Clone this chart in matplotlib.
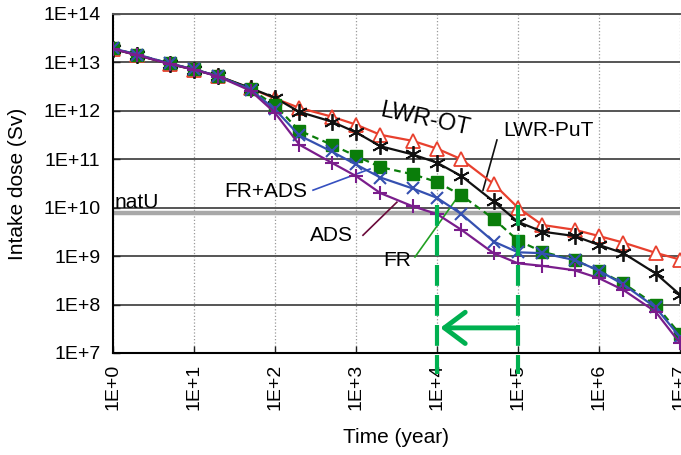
import matplotlib
matplotlib.use("Agg")
import matplotlib.pyplot as plt

# time points (year)
years = [1, 2, 5, 10, 20, 50, 100, 200, 500, 1e3, 2e3, 5e3,
         1e4, 2e4, 5e4, 1e5, 2e5, 5e5, 1e6, 2e6, 5e6, 1e7]

# intake dose (Sv)
lwr_ot = [1.9e13, 1.41e13, 9.3e12, 7.1e12, 5.2e12, 2.9e12, 1.8e12, 1.15e12,
          7.6e11, 5.2e11, 3.2e11, 2.4e11, 1.66e11, 1.0e11, 3.1e10, 1.0e10,
          4.4e9, 3.5e9, 2.6e9, 1.9e9, 1.17e9, 8.5e8]
lwr_put = [1.9e13, 1.41e13, 9.3e12, 7.1e12, 5.2e12, 2.95e12, 1.86e12, 9.5e11,
           6.0e11, 3.6e11, 1.86e11, 1.26e11, 8.5e10, 4.5e10, 1.35e10, 5.1e9,
           3.2e9, 2.6e9, 1.7e9, 1.15e9, 4.4e8, 1.6e8]
fr = [1.95e13, 1.45e13, 9.5e12, 7.2e12, 5.2e12, 2.8e12, 1.3e12, 3.9e11,
      2.0e11, 1.17e11, 6.9e10, 4.9e10, 3.4e10, 1.8e10, 5.9e9, 2.1e9,
      1.23e9, 8.3e8, 5.0e8, 2.75e8, 9.8e7, 2.45e7]
fr_ads = [1.95e13, 1.45e13, 9.5e12, 7.2e12, 5.2e12, 2.75e12, 1.07e12, 3.1e11,
          1.45e11, 7.8e10, 4.2e10, 2.5e10, 1.6e10, 7.4e9, 2.0e9, 1.2e9,
          1.15e9, 8.3e8, 5.0e8, 2.6e8, 8.7e7, 2.15e7]
ads = [1.9e13, 1.41e13, 9.3e12, 7.1e12, 5.1e12, 2.6e12, 9.1e11, 2.0e11,
       8.5e10, 4.5e10, 2.0e10, 1.07e10, 7.4e9, 3.5e9, 1.15e9, 7.1e8,
       6.3e8, 5.1e8, 3.5e8, 2.0e8, 7.1e7, 1.6e7]

natu_level = 7.8e9
x_ticks = [1, 1e1, 1e2, 1e3, 1e4, 1e5, 1e6, 1e7]
x_labels = ["1E+0", "1E+1", "1E+2", "1E+3", "1E+4", "1E+5", "1E+6", "1E+7"]
y_ticks = [1e7, 1e8, 1e9, 1e10, 1e11, 1e12, 1e13, 1e14]
y_labels = ["1E+7", "1E+8", "1E+9", "1E+10", "1E+11", "1E+12", "1E+13", "1E+14"]

plt.rcParams["font.family"] = ["Liberation Sans", "DejaVu Sans"]

fig = plt.figure(figsize=(6.81, 4.55), dpi=100)
ax = fig.add_axes([0.1659, 0.2242, 0.8326, 0.7451])
ax.set_xscale("log")
ax.set_yscale("log")
ax.set_xlim(1, 1e7)
ax.set_ylim(1e7, 1e14)

ax.grid(True, axis="y", color="#555555", lw=1.4)
ax.grid(True, axis="x", color="#999999", lw=0.9, ls=":")
ax.set_axisbelow(True)

ax.axhline(natu_level, color="#a8a8a8", lw=3.2, zorder=1.5)

ax.plot(years, lwr_ot, color="#e8402e", lw=1.6, marker="^", ms=10,
        mfc="white", mec="#e8402e", mew=1.3, zorder=3)
ax.plot(years, lwr_put, color="#111111", lw=1.6, marker=(6, 2, 0), ms=12,
        mew=1.3, zorder=3.1)
ax.plot(years, fr, color="#0a7d0a", lw=1.6, ls=(0, (3, 2)), marker="s", ms=8,
        mec="#0a7d0a", zorder=3.2)
ax.plot(years, fr_ads, color="#3550b0", lw=1.6, marker="x", ms=9, mew=1.5,
        zorder=3.3)
ax.plot(years, ads, color="#7a1d8c", lw=1.6, marker="+", ms=10, mew=1.5,
        zorder=3.4)

# dashed markers for 1E+4 and 1E+5 years and the arrow between them
for xv in [1e4, 1e5]:
    ax.plot([xv, xv], [1.15e10, 3.7e6], color="#00b050", lw=3,
            dashes=(5, 2.2), clip_on=False, zorder=4)
ax.annotate("", xy=(1.1e4, 3.3e7), xytext=(9.2e4, 3.3e7),
            arrowprops=dict(arrowstyle="->,head_length=0.6,head_width=0.45",
                            color="#00b050", lw=3.5, mutation_scale=25,
                            shrinkA=0, shrinkB=0, capstyle="round"),
            zorder=4)

# labels and leader lines
ax.text(1.06, 1.0e10, "natU", fontsize=15, ha="left", va="baseline")
ax.text(7.1e3, 6.5e11, "LWR-OT", fontsize=17, ha="center", va="center",
        rotation=-12)
ax.text(6.5e4, 4.0e11, "LWR-PuT", fontsize=15, ha="left", va="center")
ax.plot([5.5e4, 3.7e4], [2.5e11, 2.3e10], color="#111111", lw=1.2)
ax.text(248, 2.2e10, "FR+ADS", fontsize=15, ha="right", va="center")
ax.plot([295, 1.49e3], [2.3e10, 6.3e10], color="#3550c0", lw=1.2)
ax.text(918, 2.7e9, "ADS", fontsize=15, ha="right", va="center")
ax.plot([1.22e3, 3.2e3], [2.7e9, 1.3e10], color="#6a0a3a", lw=1.2)
ax.text(4.8e3, 8.3e8, "FR", fontsize=15, ha="right", va="center")
ax.plot([5.35e3, 1.8e4], [9.6e8, 1.66e10], color="#22a022", lw=1.2)

ax.set_xticks(x_ticks)
ax.set_xticklabels(x_labels, rotation=90, fontsize=14)
ax.set_yticks(y_ticks)
ax.set_yticklabels(y_labels, fontsize=14)
ax.minorticks_off()
ax.tick_params(axis="both", direction="in", length=5, width=1, color="#222222")
ax.tick_params(axis="x", pad=8)
ax.tick_params(axis="y", pad=9)

ax.spines["right"].set_visible(False)
ax.spines["top"].set_color("#555555")
ax.spines["top"].set_linewidth(1.4)
ax.spines["left"].set_linewidth(1.5)
ax.spines["bottom"].set_linewidth(1.5)

ax.set_xlabel("Time (year)", fontsize=15)
ax.set_ylabel("Intake dose (Sv)", fontsize=15)
ax.xaxis.set_label_coords(0.5, -0.22)
ax.yaxis.set_label_coords(-0.152, 0.5)

fig.savefig("out.png", dpi=100)
